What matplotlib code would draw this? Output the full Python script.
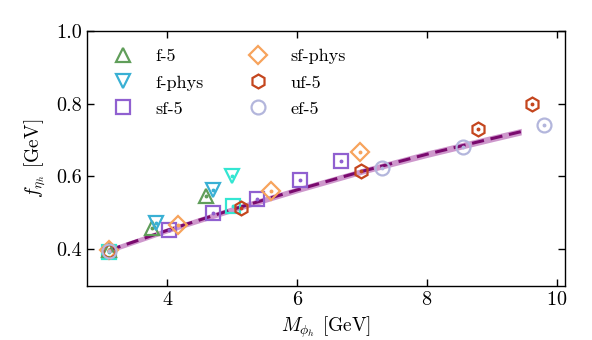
import matplotlib
matplotlib.use("Agg")
import matplotlib.pyplot as plt
import numpy as np

plt.rcParams['font.family'] = 'serif'
plt.rcParams['font.serif'] = ['cmr10', 'DejaVu Serif']
plt.rcParams['mathtext.fontset'] = 'cm'
plt.rcParams['axes.formatter.use_mathtext'] = True

# ---- data ----
f5_x = [3.1, 3.76, 4.60]
f5_y = [0.397, 0.459, 0.547]

fphys_x = [3.83, 4.71]
fphys_y = [0.472, 0.562]

turq_tri_x = [4.99]
turq_tri_y = [0.600]
turq_sq_x = [3.1, 5.01]
turq_sq_y = [0.392, 0.518]

sf5_x = [4.02, 4.70, 5.38, 6.05, 6.68]
sf5_y = [0.454, 0.500, 0.538, 0.589, 0.641]

sfphys_x = [3.11, 4.16, 5.60, 6.97]
sfphys_y = [0.397, 0.468, 0.559, 0.666]

uf5_x = [3.1, 5.13, 6.99, 8.78, 9.62]
uf5_y = [0.395, 0.513, 0.616, 0.730, 0.798]

ef5_x = [3.1, 7.31, 8.55, 9.80]
ef5_y = [0.395, 0.623, 0.680, 0.740]

fit_x = [3.1, 4.0, 5.0, 6.0, 7.0, 8.0, 9.0, 9.45]
fit_y = [0.397, 0.452, 0.509, 0.563, 0.614, 0.661, 0.704, 0.723]
fit_err = [0.007, 0.007, 0.008, 0.008, 0.008, 0.009, 0.009, 0.009]

fig = plt.figure(figsize=(5.92, 3.40), dpi=100)
ax = fig.add_axes([0.147, 0.1597, 0.807, 0.7500])

fx = np.array(fit_x); fy = np.array(fit_y); fe = np.array(fit_err)
ax.fill_between(fx, fy - fe, fy + fe, color='#c27fc0', alpha=0.8, lw=0, zorder=2)
ax.plot(fx, fy, color='#7a0a6e', lw=2.2, ls=(0, (4, 2.2)), zorder=3)

ms = 10
mew = 1.6

def series(x, y, marker, color, label=None, size=ms):
    ax.plot(x, y, ls='none', marker=marker, ms=size, mfc='none', mec=color,
            mew=mew, label=label, zorder=4)
    ax.plot(x, y, ls='none', marker='o', ms=1.8, color=color, zorder=4)

series(turq_sq_x, turq_sq_y, 's', '#33e6d2', size=10)
series(turq_tri_x, turq_tri_y, 'v', '#33e6d2', size=10.5)
series(f5_x, f5_y, '^', '#609e5a', 'f-5', size=10.5)
series(fphys_x, fphys_y, 'v', '#39b0d4', 'f-phys', size=10.5)
series(sf5_x, sf5_y, 's', '#9060d0', 'sf-5', size=10)
series(sfphys_x, sfphys_y, 'D', '#f7a35c', 'sf-phys', size=9.5)
series(uf5_x, uf5_y, 'h', '#c4461e', 'uf-5', size=10)
series(ef5_x, ef5_y, 'o', '#b3b6dc', 'ef-5', size=10)

handles, labels = ax.get_legend_handles_labels()
ax.legend(handles, labels, ncol=2, loc='upper left', frameon=False,
          fontsize=13, bbox_to_anchor=(0.008, 1.0), borderaxespad=0.6,
          handletextpad=1.0, columnspacing=2.2, labelspacing=0.58,
          handlelength=1.6)

ax.set_xlim(2.765, 10.12)
ax.set_ylim(0.30, 1.0)
ax.set_xticks([4, 6, 8, 10])
ax.set_yticks([0.4, 0.6, 0.8, 1.0])
ax.set_yticklabels(['0.4', '0.6', '0.8', '1.0'])
ax.tick_params(direction='in', top=True, right=True, length=5, width=1,
               labelsize=14.5)
for s in ax.spines.values():
    s.set_linewidth(1.0)
ax.set_xlabel(r'$M_{\phi_h}$ [GeV]', fontsize=14, labelpad=4)
ax.set_ylabel(r'$f_{\eta_h}$ [GeV]', fontsize=14, labelpad=6)

fig.savefig('out.png', dpi=100)
